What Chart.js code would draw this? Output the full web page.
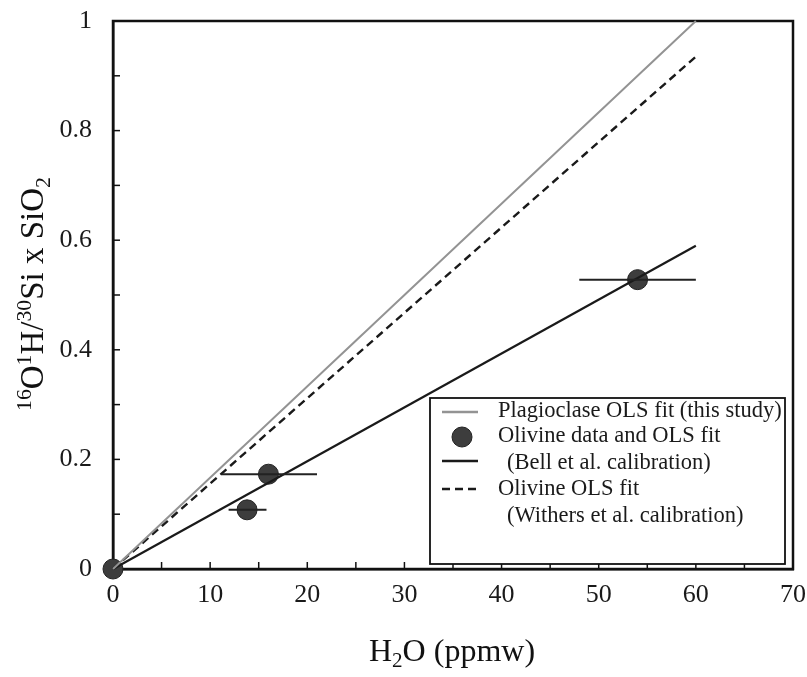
<!DOCTYPE html>
<html lang="en">
<head>
    <meta charset="UTF-8">
    <title>OH/Si vs H2O</title>
    <script src="https://cdn.jsdelivr.net/npm/chart.js"></script>
    <style>
        body { margin: 0; background: #fff; }
        #wrap { width: 807px; height: 677px; }
    </style>
</head>
<body>
    <div id="wrap"><canvas id="chart"></canvas></div>
    <script>
        // olivine data (ppmw, 16O1H/30Si x SiO2) with x error bars
        const olivineX = [0, 13.8, 16.0, 54.0];
        const olivineY = [0, 0.108, 0.173, 0.528];
        const errLow = [null, 11.9, 11.2, 48.0];
        const errHigh = [null, 15.8, 21.0, 60.0];

        // fit lines, end points
        const plagFitX = [0, 60];
        const plagFitY = [0, 1];
        const bellFitX = [0, 60];
        const bellFitY = [0, 0.59];
        const withersFitX = [0, 60];
        const withersFitY = [0, 0.935];

        const xTicks = [0, 10, 20, 30, 40, 50, 60, 70];
        const yTicks = [0, 0.2, 0.4, 0.6, 0.8, 1];

        const serif = "'Liberation Serif', 'Times New Roman', serif";
        const pts = (xs, ys) => xs.map((x, i) => ({ x: x, y: ys[i] }));

        const datasets = [];
        // error bars
        olivineX.forEach((x, i) => {
            if (errLow[i] === null) return;
            datasets.push({
                type: 'line',
                data: [{ x: errLow[i], y: olivineY[i] }, { x: errHigh[i], y: olivineY[i] }],
                borderColor: '#222',
                borderWidth: 2,
                pointRadius: 0,
                clip: false
            });
        });
        datasets.push({
            type: 'line', label: 'Plagioclase OLS fit (this study)',
            data: pts(plagFitX, plagFitY),
            borderColor: '#939393', borderWidth: 2, pointRadius: 0, clip: false
        });
        datasets.push({
            type: 'line', label: 'Olivine OLS fit (Withers)',
            data: pts(withersFitX, withersFitY),
            borderColor: '#1a1a1a', borderWidth: 2.4, borderDash: [8, 5], pointRadius: 0, clip: false
        });
        datasets.push({
            type: 'line', label: 'Olivine OLS fit (Bell)',
            data: pts(bellFitX, bellFitY),
            borderColor: '#1a1a1a', borderWidth: 2.2, pointRadius: 0, clip: false
        });
        datasets.push({
            type: 'scatter', label: 'Olivine data',
            data: pts(olivineX, olivineY),
            backgroundColor: '#3d3d3d', borderColor: '#222', borderWidth: 1,
            pointRadius: 10, clip: false
        });

        // draw a string made of normal / sup / sub pieces
        function drawRich(ctx, parts, size, cx, cy) {
            const small = size * 0.66;
            let total = 0;
            parts.forEach(p => {
                ctx.font = (p[1] ? small : size) + 'px ' + serif;
                total += ctx.measureText(p[0]).width;
            });
            let x = cx - total / 2;
            ctx.textBaseline = 'alphabetic';
            ctx.textAlign = 'left';
            parts.forEach(p => {
                ctx.font = (p[1] ? small : size) + 'px ' + serif;
                let y = cy;
                if (p[1] === 'sup') y = cy - size * 0.36;
                if (p[1] === 'sub') y = cy + size * 0.2;
                ctx.fillText(p[0], x, y);
                x += ctx.measureText(p[0]).width;
            });
        }

        const extras = {
            id: 'extras',
            beforeDatasetsDraw(chart) {
                const { ctx, chartArea: a, scales } = chart;
                ctx.save();
                ctx.strokeStyle = '#111';
                ctx.lineWidth = 1.5;
                // inward minor ticks
                for (let v = 5; v < 70; v += 5) {
                    const px = scales.x.getPixelForValue(v);
                    ctx.beginPath(); ctx.moveTo(px, a.bottom); ctx.lineTo(px, a.bottom - 7); ctx.stroke();
                }
                for (let k = 1; k < 10; k++) {
                    const py = scales.y.getPixelForValue(k / 10);
                    ctx.beginPath(); ctx.moveTo(a.left, py); ctx.lineTo(a.left + 7, py); ctx.stroke();
                }
                // frame
                ctx.lineWidth = 2.5;
                ctx.strokeStyle = '#111';
                ctx.strokeRect(a.left, a.top, a.right - a.left, a.bottom - a.top);
                ctx.restore();
            },
            afterDraw(chart) {
                const { ctx } = chart;
                ctx.save();
                ctx.fillStyle = '#111';
                // x title
                drawRich(ctx, [['H'], ['2', 'sub'], ['O (ppmw)']], 32, 452, 661);
                // y title
                ctx.save();
                ctx.translate(43, 294);
                ctx.rotate(-Math.PI / 2);
                drawRich(ctx, [['16', 'sup'], ['O'], ['1', 'sup'], ['H/'], ['30', 'sup'], ['Si x SiO'], ['2', 'sub']], 33, 0, 0);
                ctx.restore();

                // legend
                const L = 430, T = 398, R = 785, B = 564;
                ctx.fillStyle = '#fff';
                ctx.fillRect(L, T, R - L, B - T);
                ctx.strokeStyle = '#111';
                ctx.lineWidth = 1.8;
                ctx.strokeRect(L, T, R - L, B - T);
                ctx.lineWidth = 2.4;
                ctx.strokeStyle = '#939393';
                ctx.beginPath(); ctx.moveTo(442, 412); ctx.lineTo(478, 412); ctx.stroke();
                ctx.fillStyle = '#3d3d3d';
                ctx.strokeStyle = '#222';
                ctx.lineWidth = 1;
                ctx.beginPath(); ctx.arc(462, 437, 10, 0, Math.PI * 2); ctx.fill(); ctx.stroke();
                ctx.strokeStyle = '#1a1a1a';
                ctx.lineWidth = 2.6;
                ctx.beginPath(); ctx.moveTo(442, 461); ctx.lineTo(478, 461); ctx.stroke();
                ctx.setLineDash([8, 5]);
                ctx.beginPath(); ctx.moveTo(442, 489); ctx.lineTo(478, 489); ctx.stroke();
                ctx.setLineDash([]);

                ctx.fillStyle = '#1a1a1a';
                ctx.font = '22.5px ' + serif;
                ctx.textAlign = 'left';
                ctx.textBaseline = 'middle';
                ctx.fillText('Plagioclase OLS fit (this study)', 498, 411);
                ctx.fillText('Olivine data and OLS fit', 498, 436);
                ctx.fillText('(Bell et al. calibration)', 507, 463);
                ctx.fillText('Olivine OLS fit', 498, 489);
                ctx.fillText('(Withers et al. calibration)', 507, 516);
                ctx.restore();
            }
        };

        new Chart(document.getElementById('chart'), {
            type: 'scatter',
            data: { datasets: datasets },
            options: {
                responsive: true,
                maintainAspectRatio: false,
                animation: false,
                layout: { padding: { left: 0, top: 21, right: 14, bottom: 0 } },
                plugins: { legend: { display: false }, tooltip: { enabled: false } },
                scales: {
                    x: {
                        type: 'linear', min: 0, max: 70,
                        afterFit: s => { s.height = 108; s.paddingLeft = 0; s.paddingRight = 0; },
                        afterBuildTicks: s => { s.ticks = xTicks.map(v => ({ value: v })); },
                        grid: { display: false, drawTicks: false },
                        border: { display: true, color: '#111', width: 2.5 },
                        ticks: { color: '#1a1a1a', padding: 11, font: { family: serif, size: 26 } }
                    },
                    y: {
                        type: 'linear', min: 0, max: 1,
                        afterFit: s => { s.width = 113; s.paddingTop = 0; s.paddingBottom = 0; },
                        afterBuildTicks: s => { s.ticks = yTicks.map(v => ({ value: v })); },
                        grid: { display: false, drawTicks: false },
                        border: { display: true, color: '#111', width: 2.5 },
                        ticks: {
                            color: '#1a1a1a', padding: 21, font: { family: serif, size: 26 },
                            callback: v => String(v)
                        }
                    }
                }
            },
            plugins: [extras]
        });
    </script>
</body>
</html>
